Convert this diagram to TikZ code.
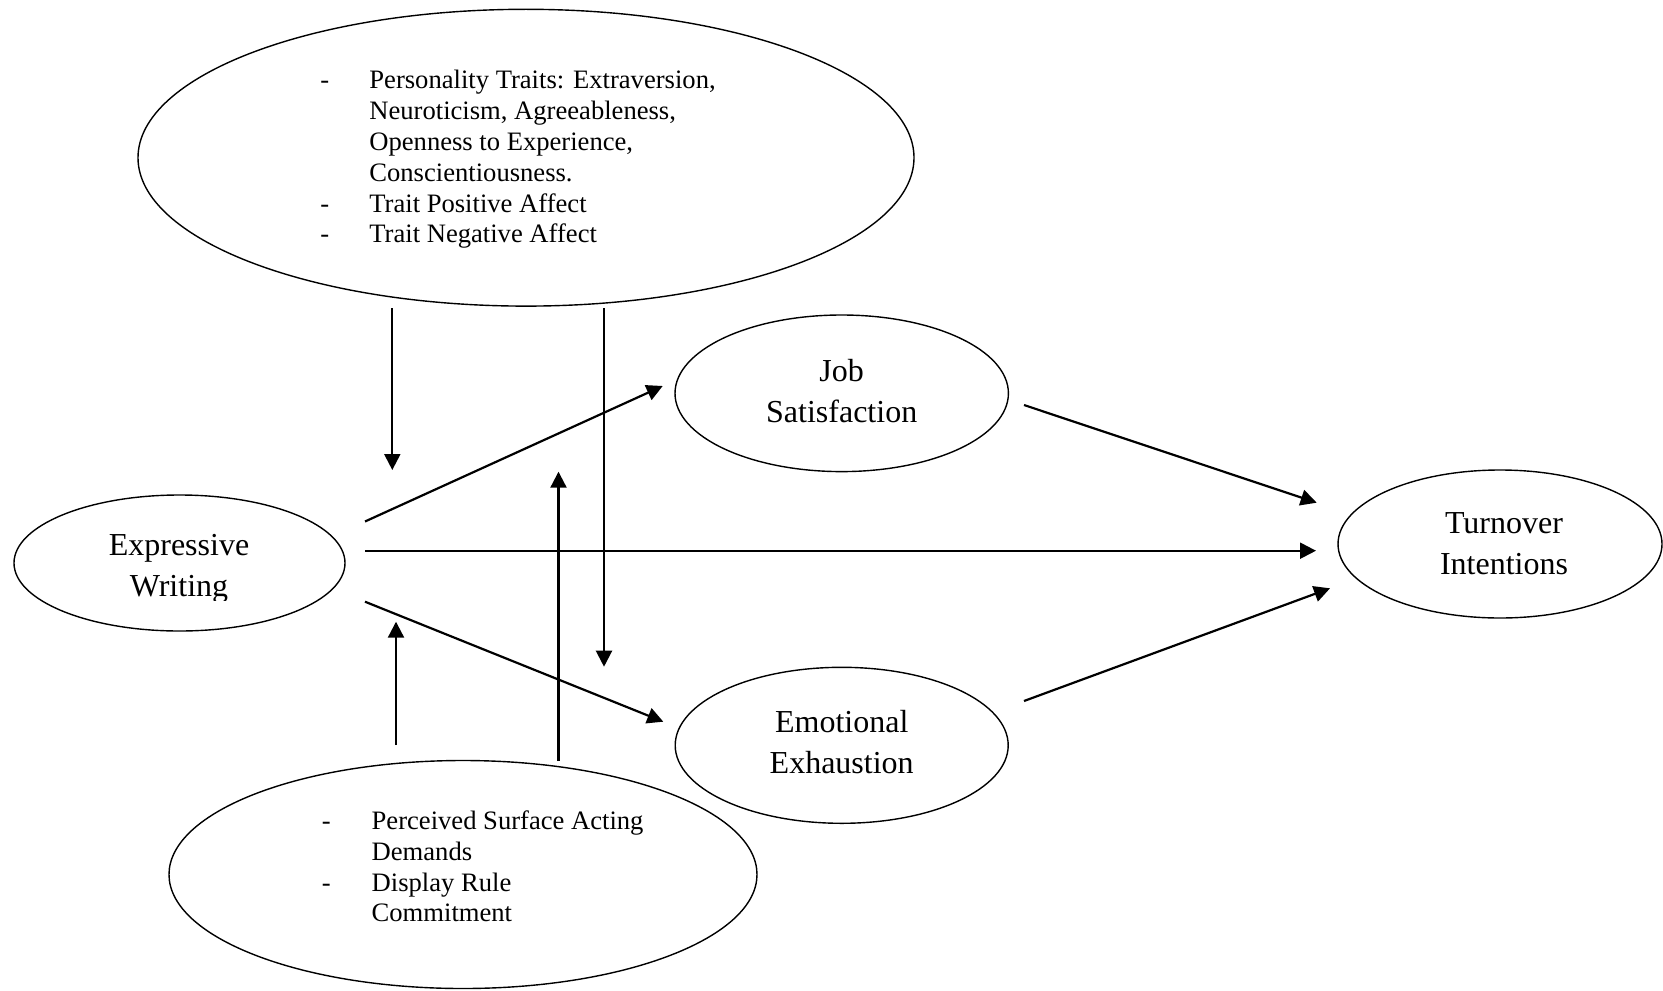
\documentclass[tikz,border=0pt]{standalone}
\usepackage{fontspec}
\setmainfont{Liberation Serif}
\usetikzlibrary{arrows.meta,shapes.geometric}
\begin{document}
\begin{tikzpicture}[x=0.5pt,y=-0.5pt,
  oval/.style={draw, ellipse, line width=0.7pt, inner sep=0pt},
  biglabel/.style={inner sep=0pt, anchor=base, font=\fontsize{16}{20.5}\selectfont},
  listtext/.style={inner sep=0pt, anchor=base west, font=\fontsize{13.3}{15.4}\selectfont},
  link/.style={line width=1.1pt, -{Triangle[length=8pt,width=8pt]}}]
\useasboundingbox (0,0) rectangle (1663,990);

% ellipses
\node[oval, minimum width=388pt, minimum height=148.4pt] (traits) at (526,157.7) {};
\node[oval, minimum width=294pt, minimum height=114pt] (demands) at (463,874.5) {};
\node[oval, minimum width=165.5pt, minimum height=68pt] (ew) at (179.5,563) {};
\node[oval, minimum width=166.7pt, minimum height=78.3pt] (js) at (841.7,393.3) {};
\node[oval, minimum width=166.5pt, minimum height=78pt] (ee) at (841.7,745.3) {};
\node[oval, minimum width=162pt, minimum height=74pt] (ti) at (1500,544) {};

% labels
\begin{scope}
\clip (0,0) rectangle (1663,600);
\node[biglabel] (ewtext) at (179,555.5) {\begin{tabular}[t]{@{}c@{}}Expressive\\Writing\end{tabular}};
\end{scope}
\node[biglabel] (jstext) at (841.7,381) {\begin{tabular}[t]{@{}c@{}}Job\\Satisfaction\end{tabular}};
\node[biglabel] (eetext) at (841.7,732) {\begin{tabular}[t]{@{}c@{}}Emotional\\Exhaustion\end{tabular}};
\node[biglabel] (titext) at (1504,533) {\begin{tabular}[t]{@{}c@{}}Turnover\\Intentions\end{tabular}};

\node[listtext] (traitstext) at (320,89) {\begin{tabular}[t]{@{}p{24.5pt}@{}l@{}}
-& Personality Traits: Extraversion,\\
 & Neuroticism, Agreeableness,\\
 & Openness to Experience,\\
 & Conscientiousness.\\
-& Trait Positive Affect\\
-& Trait Negative Affect
\end{tabular}};

\node[listtext] (demandstext) at (321.5,829.5) {\begin{tabular}[t]{@{}p{24.9pt}@{}l@{}}
-& Perceived Surface Acting\\
 & Demands\\
-& Display Rule\\
 & Commitment
\end{tabular}};

% connector end points
\coordinate (ewjs1) at (365,521.5);   \coordinate (ewjs2) at (662.7,386);
\coordinate (ewti1) at (365,550.7);   \coordinate (ewti2) at (1316,550.7);
\coordinate (ewee1) at (365,601.7);   \coordinate (ewee2) at (663.3,721.7);
\coordinate (jsti1) at (1024,405);    \coordinate (jsti2) at (1316.7,502.7);
\coordinate (eeti1) at (1024,701);    \coordinate (eeti2) at (1330,588.3);
\coordinate (tr1a) at (392.3,308);    \coordinate (tr1b) at (392.3,470);
\coordinate (tr2a) at (604,308);      \coordinate (tr2b) at (604,666.7);
\coordinate (dm1a) at (396,745);      \coordinate (dm1b) at (396,621.7);
\coordinate (dm2a) at (558.5,761);    \coordinate (dm2b) at (558.5,471.7);

% connectors
\draw[link] (ewjs1) -- (ewjs2);
\draw[link] (ewti1) -- (ewti2);
\draw[link] (ewee1) -- (ewee2);
\draw[link] (jsti1) -- (jsti2);
\draw[link] (eeti1) -- (eeti2);
\draw[link] (tr1a) -- (tr1b);
\draw[link] (tr2a) -- (tr2b);
\draw[link] (dm1a) -- (dm1b);
\draw[link] (dm2a) -- (dm2b);
\end{tikzpicture}
\end{document}
